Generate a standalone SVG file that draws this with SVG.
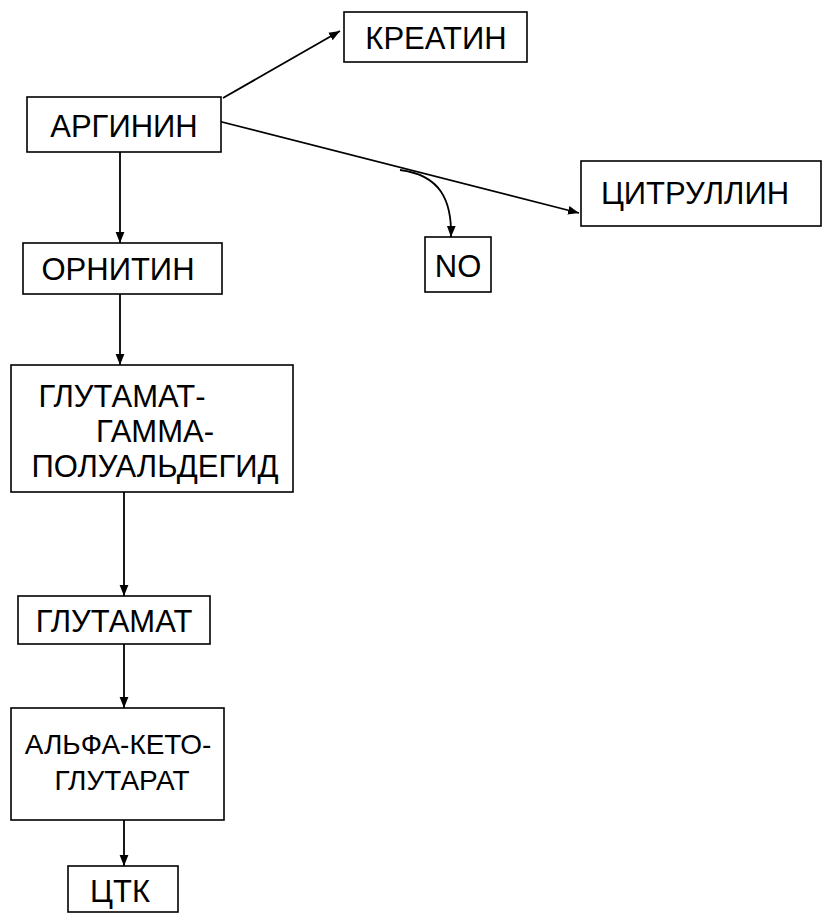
<svg xmlns="http://www.w3.org/2000/svg" width="832" height="920" viewBox="0 0 832 920">
<style>
rect{fill:#fff;stroke:#000;stroke-width:1.6}
text{font-family:"Liberation Sans",Arial,sans-serif;font-size:31px;text-anchor:middle;fill:#000}
.s{font-size:28px}
.c path,.c line{stroke:#000;stroke-width:1.8;fill:none;marker-end:url(#a)}
</style>
<defs><marker id="a" viewBox="0 0 10 10" refX="10" refY="5" markerWidth="11" markerHeight="11" orient="auto" markerUnits="userSpaceOnUse"><path d="M0,1 L10,5 L0,9 Z" fill="#000"/></marker></defs>
<rect x="0" y="0" width="832" height="920" style="fill:#fff;stroke:none"/>
<g class="c">
<line x1="223" y1="98" x2="340" y2="31"/>
<line x1="218" y1="121" x2="579" y2="213"/>
<path d="M400,170 C440,175 452,200 451,237"/>
<line x1="120" y1="152" x2="120" y2="243"/>
<line x1="120" y1="294" x2="120" y2="365"/>
<line x1="124" y1="492" x2="124" y2="596"/>
<line x1="124" y1="644" x2="124" y2="708"/>
<line x1="124" y1="820" x2="124" y2="866"/>
</g>
<g id="kreatin"><rect x="344" y="12" width="183" height="50"/><text x="436" y="49">КРЕАТИН</text></g>
<g id="arginin"><rect x="27" y="97" width="194" height="55"/><text x="124" y="137">АРГИНИН</text></g>
<g id="citrullin"><rect x="581" y="161" width="240" height="65"/><text x="695" y="204">ЦИТРУЛЛИН</text></g>
<g id="no"><rect x="425" y="237" width="66" height="55"/><text x="458" y="277">NO</text></g>
<g id="ornitin"><rect x="23" y="243" width="199" height="51"/><text x="118" y="280">ОРНИТИН</text></g>
<g id="ggpa"><rect x="11" y="365" width="282" height="127"/><text x="122" y="407">ГЛУТАМАТ-</text><text x="155" y="442">ГАММА-</text><text x="155" y="477">ПОЛУАЛЬДЕГИД</text></g>
<g id="glutamat"><rect x="18" y="596" width="192" height="48"/><text x="114" y="632">ГЛУТАМАТ</text></g>
<g id="akg"><rect x="11" y="708" width="213" height="112"/><text class="s" x="118" y="754">АЛЬФА-КЕТО-</text><text class="s" x="122" y="790">ГЛУТАРАТ</text></g>
<g id="ctk"><rect x="68" y="866" width="110" height="46"/><text x="120" y="902">ЦТК</text></g>
</svg>
